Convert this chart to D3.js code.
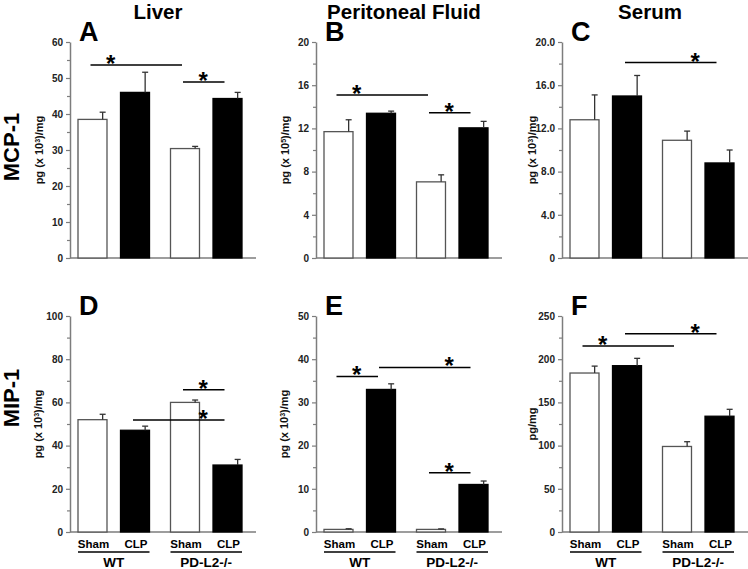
<!DOCTYPE html>
<html><head><meta charset="utf-8">
<script src="https://cdn.jsdelivr.net/npm/d3@7"></script>
<style>
body{margin:0;background:#fff}
svg{display:block;font-family:Arial,"Liberation Sans",sans-serif}
</style>
</head><body>
<svg id="c" width="748" height="569"></svg>
<script>
// ---------- data ----------
const groups = ["WT", "PD-L2-/-"];
const treatments = ["Sham", "CLP"];
const columnTitles = ["Liver", "Peritoneal Fluid", "Serum"];
const rowTitles = ["MCP-1", "MIP-1"];
const panelLetters = ["A", "B", "C", "D", "E", "F"];

// bar order: WT-Sham, WT-CLP, PD-L2-Sham, PD-L2-CLP
const mcpLiver = [38.5, 46.0, 30.4, 44.3];
const mcpLiverErr = [2.0, 5.6, 0.6, 1.7];
const mcpPerit = [11.7, 13.4, 7.05, 12.05];
const mcpPeritErr = [1.1, 0.2, 0.65, 0.6];
const mcpSerum = [12.8, 15.0, 10.9, 8.8];
const mcpSerumErr = [2.3, 1.9, 0.85, 1.2];
const mipLiver = [52.0, 47.1, 60.0, 31.0];
const mipLiverErr = [2.5, 1.9, 1.1, 2.6];
const mipPerit = [0.6, 33.0, 0.6, 11.0];
const mipPeritErr = [0.15, 1.3, 0.12, 0.8];
const mipSerum = [184, 192.5, 99, 134];
const mipSerumErr = [8, 8.5, 5.5, 8];

const ticksA = [0, 10, 20, 30, 40, 50, 60];
const minorA = [5, 15, 25, 35, 45, 55];
const labelsA = ["0", "10", "20", "30", "40", "50", "60"];
const ticksB = [0, 4, 8, 12, 16, 20];
const minorB = [2, 6, 10, 14, 18];
const labelsB = ["0", "4", "8", "12", "16", "20"];
const ticksC = [0, 4, 8, 12, 16, 20];
const minorC = [2, 6, 10, 14, 18];
const labelsC = ["0", "4.0", "8.0", "12.0", "16.0", "20.0"];
const ticksD = [0, 20, 40, 60, 80, 100];
const minorD = [10, 30, 50, 70, 90];
const labelsD = ["0", "20", "40", "60", "80", "100"];
const ticksE = [0, 10, 20, 30, 40, 50];
const minorE = [5, 15, 25, 35, 45];
const labelsE = ["0", "10", "20", "30", "40", "50"];
const ticksF = [0, 50, 100, 150, 200, 250];
const minorF = [25, 75, 125, 175, 225];
const labelsF = ["0", "50", "100", "150", "200", "250"];

// y-axis titles: [before superscript, superscript, after]
const yTitleA = ["pg (x 10", "3", ")/mg"];
const yTitleB = ["pg (x 10", "5", ")/mg"];
const yTitleC = ["pg (x 10", "3", ")/mg"];
const yTitleD = ["pg (x 10", "3", ")/mg"];
const yTitleE = ["pg (x 10", "3", ")/mg"];
const yTitleF = ["pg/mg", "", ""];

// significance brackets: from bar, to bar, height (data units), star between bars
const sigA = [{from: 0, to: 2, y: 53.6, star: 0.5}, {from: 2, to: 3, y: 48.9, star: 2.5}];
const sigB = [{from: 0, to: 2, y: 15.1, star: 0.5}, {from: 2, to: 3, y: 13.45, star: 2.5}];
const sigC = [{from: 1, to: 3, y: 18.1, star: 2.5}];
const sigD = [{from: 2, to: 3, y: 65.8, star: 2.5}, {from: 1, to: 3, y: 51.9, star: 2.5}];
const sigE = [{from: 0, to: 1, y: 36.0, star: 0.5}, {from: 1, to: 3, y: 38.1, star: 2.5}, {from: 2, to: 3, y: 13.7, star: 2.5}];
const sigF = [{from: 0, to: 2, y: 215.4, star: 0.5}, {from: 1, to: 3, y: 229.6, star: 2.5}];

const panels = [
  {letter: panelLetters[0], col: 0, row: 0, v: mcpLiver, e: mcpLiverErr, t: ticksA, m: minorA, l: labelsA, yt: yTitleA, sig: sigA},
  {letter: panelLetters[1], col: 1, row: 0, v: mcpPerit, e: mcpPeritErr, t: ticksB, m: minorB, l: labelsB, yt: yTitleB, sig: sigB},
  {letter: panelLetters[2], col: 2, row: 0, v: mcpSerum, e: mcpSerumErr, t: ticksC, m: minorC, l: labelsC, yt: yTitleC, sig: sigC},
  {letter: panelLetters[3], col: 0, row: 1, v: mipLiver, e: mipLiverErr, t: ticksD, m: minorD, l: labelsD, yt: yTitleD, sig: sigD},
  {letter: panelLetters[4], col: 1, row: 1, v: mipPerit, e: mipPeritErr, t: ticksE, m: minorE, l: labelsE, yt: yTitleE, sig: sigE},
  {letter: panelLetters[5], col: 2, row: 1, v: mipSerum, e: mipSerumErr, t: ticksF, m: minorF, l: labelsF, yt: yTitleF, sig: sigF}
];

// ---------- layout ----------
const svg = d3.select("#c");
const colX = [70, 316, 562];
const rowY = [[42, 258], [316, 532]];
const axisGray = "#7d7d7d";

const x0 = d3.scaleBand().domain(groups).range([0, 180]).paddingInner(0.227).paddingOuter(0.0865);
const x1 = d3.scaleBand().domain(treatments).range([0, x0.bandwidth()]).paddingInner(0.318).paddingOuter(0);
const barKeys = [];
groups.forEach(g => treatments.forEach(t => barKeys.push([g, t])));
const barLeft = i => x0(barKeys[i][0]) + x1(barKeys[i][1]);
const barCenter = i => barLeft(i) + x1.bandwidth() / 2;

// column titles
columnTitles.forEach((t, i) => {
  svg.append("text").attr("x", colX[i] + 88).attr("y", 19).attr("text-anchor", "middle")
    .attr("font-size", 20.5).attr("font-weight", "bold").attr("fill", "#000").text(t);
});
// row titles
rowTitles.forEach((t, i) => {
  const cy = i === 0 ? 147 : 398;
  svg.append("text").attr("transform", `translate(19,${cy}) rotate(-90)`).attr("text-anchor", "middle")
    .attr("font-size", 22).attr("font-weight", "bold").attr("fill", "#000").text(t);
});

panels.forEach(p => {
  const ox = colX[p.col];
  const [top, bottom] = rowY[p.row];
  const g = svg.append("g").attr("transform", `translate(${ox},0)`);
  const y = d3.scaleLinear().domain([0, p.t[p.t.length - 1]]).range([bottom, top]);

  // minor ticks
  const minorAxis = d3.axisLeft(y).tickValues(p.m).tickSize(3).tickFormat("").tickSizeOuter(0);
  const gm = g.append("g").call(minorAxis);
  gm.select(".domain").remove();
  gm.selectAll("line").attr("stroke", axisGray).attr("stroke-width", 1.2);

  // major axis
  const yAxis = d3.axisLeft(y).tickValues(p.t).tickSize(4).tickPadding(3).tickSizeOuter(0)
    .tickFormat((d, i) => p.l[i]);
  const ga = g.append("g").call(yAxis);
  ga.select(".domain").attr("stroke", axisGray).attr("stroke-width", 1.5);
  ga.selectAll(".tick line").attr("stroke", axisGray).attr("stroke-width", 1.2);
  ga.selectAll(".tick text").attr("font-family", "Arial, 'Liberation Sans', sans-serif")
    .attr("font-size", 10).attr("font-weight", "bold").attr("fill", "#222");

  // x baseline
  g.append("line").attr("x1", 0).attr("x2", 186).attr("y1", y(0)).attr("y2", y(0))
    .attr("stroke", axisGray).attr("stroke-width", 1.5);

  // bars
  p.v.forEach((val, i) => {
    const white = i % 2 === 0;
    g.append("rect").attr("x", barLeft(i)).attr("width", x1.bandwidth())
      .attr("y", y(val)).attr("height", y(0) - y(val))
      .attr("fill", white ? "#fff" : "#000")
      .attr("stroke", white ? "#555" : "#000").attr("stroke-width", 1.3);
    const ex = barLeft(i) + x1.bandwidth() * 0.85;
    g.append("line").attr("x1", ex).attr("x2", ex).attr("y1", y(val)).attr("y2", y(val + p.e[i]))
      .attr("stroke", "#333").attr("stroke-width", 1.3);
    g.append("line").attr("x1", ex - 3).attr("x2", ex + 3).attr("y1", y(val + p.e[i])).attr("y2", y(val + p.e[i]))
      .attr("stroke", "#333").attr("stroke-width", 1.3);
  });

  // significance
  p.sig.forEach(s => {
    const yy = y(s.y);
    g.append("line").attr("x1", barCenter(s.from) - 2).attr("x2", barCenter(s.to) - 3)
      .attr("y1", yy).attr("y2", yy).attr("stroke", "#000").attr("stroke-width", 1.5);
    const sx = (barCenter(Math.floor(s.star)) + barCenter(Math.ceil(s.star))) / 2 - 3;
    g.append("text").attr("x", sx).attr("y", yy + 7).attr("text-anchor", "middle")
      .attr("font-size", 24).attr("font-weight", "bold").text("*");
  });

  // panel letter
  g.append("text").attr("x", 9).attr("y", top - 1).attr("font-size", 27).attr("font-weight", "bold")
    .attr("fill", "#000").text(p.letter);

  // y title
  const tx = p.col === 2 ? -30 : (p.row === 1 ? -32 : -31);
  const yt = g.append("text").attr("transform", `translate(${tx},${(top + bottom) / 2}) rotate(-90)`)
    .attr("text-anchor", "middle").attr("dy", "0.35em").attr("font-size", 11).attr("font-weight", "bold").attr("fill", "#111");
  yt.append("tspan").text(p.yt[0]);
  if (p.yt[1]) {
    yt.append("tspan").attr("font-size", 7).attr("dy", "-0.45em").text(p.yt[1]);
    yt.append("tspan").attr("dy", "0.28em").text(p.yt[2]);
  }

  // bottom labels (row 2 only)
  if (p.row === 1) {
    barKeys.forEach((k, i) => {
      g.append("text").attr("x", barCenter(i) + 1).attr("y", bottom + 16).attr("text-anchor", "middle")
        .attr("font-size", 11.5).attr("font-weight", "bold").text(k[1]);
    });
    groups.forEach((grp, gi) => {
      const l = barLeft(gi * 2), r = barLeft(gi * 2 + 1) + x1.bandwidth();
      g.append("line").attr("x1", l).attr("x2", r).attr("y1", bottom + 20).attr("y2", bottom + 20)
        .attr("stroke", "#000").attr("stroke-width", 1.5);
      g.append("text").attr("x", (l + r) / 2).attr("y", bottom + 35).attr("text-anchor", "middle")
        .attr("font-size", 13.5).attr("font-weight", "bold").text(grp);
    });
  }
});
</script>
</body></html>
